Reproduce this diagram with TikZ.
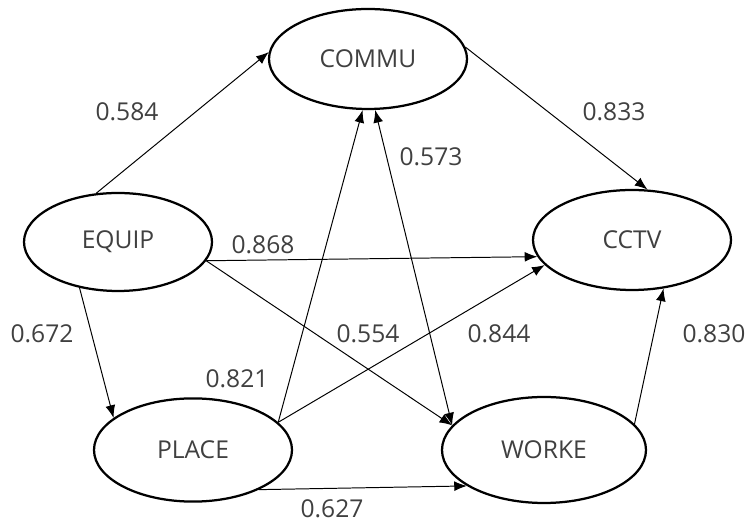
\documentclass[tikz,border=0pt]{standalone}
\usepackage{fontspec}
\setmainfont{Open Sans}
\usetikzlibrary{arrows.meta,shapes.geometric}
\tikzset{latent/.style={draw, ellipse, line width=1.6pt, minimum width=4.95cm, minimum height=2.5cm, inner sep=0pt, text=black!75}}
\begin{document}
\begin{tikzpicture}[font=\fontsize{17.5}{20}\selectfont, line join=round, >={Latex[length=9pt,width=7pt]}]
 \useasboundingbox (0,0) rectangle (18.7,13.05);
 \node[latent] (commu) at (9.2,11.575) {COMMU};
 \node[latent, minimum width=4.7cm, minimum height=2.45cm] (equip) at (2.95,7.0) {EQUIP};
 \node[latent] (cctv) at (15.8,7.05) {CCTV};
 \node[latent, minimum height=2.58cm] (place) at (4.825,1.8) {PLACE};
 \node[latent, minimum width=5.1cm, minimum height=2.65cm] (worke) at (13.6,1.8) {WORKE};
 \draw[->, line width=0.7pt] (equip.114) -- (commu.176);
 \draw[->, line width=0.7pt] (commu.7) -- (cctv.73);
 \draw[->, line width=0.7pt] (equip.-12) -- (cctv.190);
 \draw[->, line width=0.7pt] (equip.-12) -- (worke.165);
 \draw[->, line width=0.7pt] (equip.230) -- (place.158);
 \draw[->, line width=0.7pt] (place.18) -- (commu.264);
 \draw[<->, line width=0.7pt] (commu.278) -- (worke.165);
 \draw[->, line width=0.7pt] (place.18) -- (cctv.196);
 \draw[->, line width=0.7pt] (place.-31) -- (worke.205);
 \draw[->, line width=0.7pt] (worke.16) -- (cctv.303);
 %nhãn hệ số
 \begin{scope}[text=black!75]
 \node (l1) at (3.175,10.25) {0.584};
 \node (l2) at (15.35,10.25) {0.833};
 \node (l3) at (10.775,9.125) {0.573};
 \node (l4) at (6.575,6.925) {0.868};
 \node (l5) at (1.05,4.7) {0.672};
 \node (l6) at (9.2,4.7) {0.554};
 \node (l7) at (12.475,4.7) {0.844};
 \node (l8) at (17.85,4.7) {0.830};
 \node (l9) at (5.925,3.575) {0.821};
 \node (l10) at (8.3,0.325) {0.627};
 \end{scope}
\end{tikzpicture}
\end{document}
